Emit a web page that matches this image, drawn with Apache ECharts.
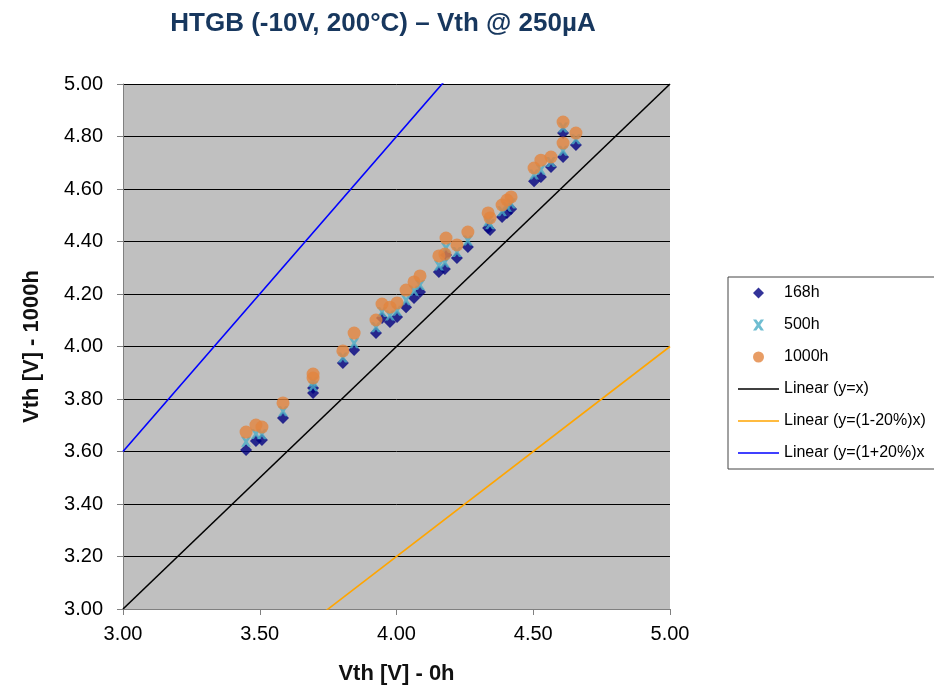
<!DOCTYPE html>
<html>
<head>
<meta charset="utf-8">
<script src="https://cdn.jsdelivr.net/npm/echarts@6/dist/echarts.min.js"></script>
<style>
  html, body { margin: 0; padding: 0; background: #fff; }
  #chart { width: 934px; height: 687px; }
</style>
</head>
<body>
<div id="chart"></div>
<script>
// Vth at 0h (x) for each device
var vth0h = [3.450, 3.486, 3.508, 3.585, 3.695, 3.695, 3.804, 3.845, 3.925, 3.947,
             3.976, 4.002, 4.035, 4.064, 4.086, 4.155, 4.177, 4.181, 4.221, 4.261,
             4.335, 4.342, 4.386, 4.404, 4.419, 4.503, 4.528, 4.565, 4.609, 4.609, 4.656];
// Vth after stress
var vth168h = [3.606, 3.640, 3.644, 3.728, 3.823, 3.842, 3.937, 3.987, 4.051, 4.109,
               4.093, 4.112, 4.150, 4.185, 4.208, 4.284, 4.295, 4.349, 4.337, 4.379,
               4.451, 4.444, 4.493, 4.509, 4.524, 4.630, 4.646, 4.684, 4.722, 4.813, 4.768];
var vth500h = [3.637, 3.667, 3.666, 3.753, 3.849, 3.866, 3.958, 4.012, 4.073, 4.131,
               4.118, 4.136, 4.176, 4.212, 4.234, 4.309, 4.320, 4.375, 4.360, 4.404,
               4.477, 4.466, 4.515, 4.532, 4.545, 4.655, 4.673, 4.703, 4.746, 4.834, 4.790];
var vth1000h = [3.674, 3.701, 3.693, 3.785, 3.880, 3.895, 3.983, 4.051, 4.101, 4.162,
                4.150, 4.166, 4.215, 4.246, 4.269, 4.345, 4.352, 4.413, 4.387, 4.436,
                4.509, 4.490, 4.539, 4.558, 4.570, 4.680, 4.710, 4.722, 4.775, 4.855, 4.813];

// reference lines y = k * x
var refNames = ['Linear (y=x)', 'Linear (y=(1-20%)x)', 'Linear (y=(1+20%)x'];
var refSlopes = [1, 0.8, 1.2];
var refColors = ['#000000', '#FFA500', '#0000FF'];

var axisMin = 3, axisMax = 5;
var xTickStep = 0.5, yTickStep = 0.2;

var diamondPath = 'path://M5,0 L10,5 L5,10 L0,5 Z';
var crossPath = 'path://M0,0 L3,0 L5,2.8 L7,0 L10,0 L6.6,5 L10,10 L7,10 L5,7.2 L3,10 L0,10 L3.4,5 Z';
var lineIconPath = 'path://M0,0 L41,0 L41,1.6 L0,1.6 Z';

function pairs(xs, ys) {
    var out = [];
    for (var i = 0; i < xs.length; i++) out.push([xs[i], ys[i]]);
    return out;
}

var chart = echarts.init(document.getElementById('chart'));
var fontFamily = 'Arial, "Liberation Sans", sans-serif';

var series = [];
var legendData = [
    { name: '168h', icon: diamondPath },
    { name: '500h', icon: crossPath },
    { name: '1000h', icon: 'circle' }
];
for (var i = 0; i < refNames.length; i++) {
    series.push({
        name: refNames[i],
        type: 'line',
        symbol: 'none',
        clip: true,
        z: 1,
        lineStyle: { color: refColors[i], width: 1.6 },
        itemStyle: { color: refColors[i] },
        data: [[axisMin, axisMin * refSlopes[i]], [axisMax, axisMax * refSlopes[i]]]
    });
    legendData.push({ name: refNames[i], icon: lineIconPath });
}
series.push({
    name: '168h', type: 'scatter', symbol: diamondPath, symbolSize: 12, z: 3,
    itemStyle: { color: '#00007F' }, data: pairs(vth0h, vth168h)
});
series.push({
    name: '500h', type: 'scatter', symbol: crossPath, symbolSize: 10, z: 4,
    itemStyle: { color: '#4BACC6' }, data: pairs(vth0h, vth500h)
});
series.push({
    name: '1000h', type: 'scatter', symbol: 'circle', symbolSize: 13, z: 5,
    itemStyle: { color: '#E2843E' }, data: pairs(vth0h, vth1000h)
});

var option = {
    backgroundColor: '#fff',
    animation: false,
    textStyle: { fontFamily: fontFamily },
    title: {
        text: 'HTGB (-10V, 200°C) – Vth @ 250µA',
        left: 378,
        top: 6,
        textAlign: 'center',
        textStyle: { fontSize: 26, fontWeight: 'bold', color: '#17375E', fontFamily: fontFamily }
    },
    grid: {
        left: 123, right: 264, top: 84, bottom: 78,
        show: true, backgroundColor: '#C0C0C0', borderWidth: 0,
        outerBoundsMode: 'none'
    },
    legend: {
        orient: 'vertical',
        left: 728,
        top: 277,
        padding: [7, 200, 7, 10],
        backgroundColor: '#fff',
        borderColor: '#444',
        borderWidth: 1,
        borderRadius: 0,
        itemWidth: 41,
        itemHeight: 11,
        itemGap: 14,
        textStyle: { fontSize: 16, lineHeight: 18, color: '#000', fontFamily: fontFamily },
        data: legendData
    },
    xAxis: {
        type: 'value',
        min: axisMin, max: axisMax, interval: xTickStep,
        name: 'Vth [V] - 0h',
        nameLocation: 'middle',
        nameGap: 54,
        nameTextStyle: { fontSize: 22, fontWeight: 'bold', color: '#111', fontFamily: fontFamily },
        axisLine: { show: true, lineStyle: { color: '#808080', width: 1 } },
        axisTick: { show: true, length: 6, lineStyle: { color: '#808080' } },
        axisLabel: {
            margin: 15, fontSize: 20, color: '#000', fontFamily: fontFamily,
            formatter: function (v) { return v.toFixed(2); }
        },
        splitLine: { show: false }
    },
    yAxis: {
        type: 'value',
        min: axisMin, max: axisMax, interval: yTickStep,
        name: 'Vth [V] - 1000h',
        nameLocation: 'middle',
        nameGap: 80,
        nameTextStyle: { fontSize: 22, fontWeight: 'bold', color: '#111', fontFamily: fontFamily },
        axisLine: { show: true, lineStyle: { color: '#808080', width: 1 } },
        axisTick: { show: true, length: 6, lineStyle: { color: '#808080' } },
        axisLabel: {
            margin: 20, fontSize: 20, color: '#000', fontFamily: fontFamily,
            formatter: function (v) { return v.toFixed(2); }
        },
        splitLine: { show: true, lineStyle: { color: '#000', width: 1 } }
    },
    series: series
};

chart.setOption(option);
</script>
</body>
</html>
